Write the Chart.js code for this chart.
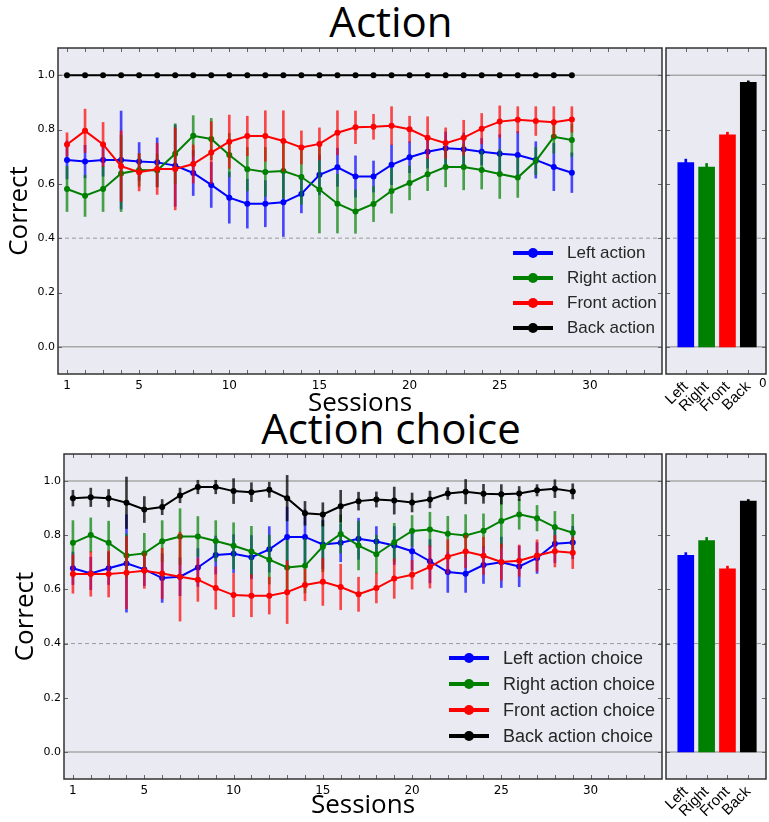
<!DOCTYPE html>
<html>
<head>
<meta charset="utf-8">
<script src="https://cdn.jsdelivr.net/npm/chart.js@4.4.1/dist/chart.umd.min.js"></script>
<style>
  html, body { margin: 0; padding: 0; background: #fff; }
  body { width: 769px; height: 822px; position: relative; overflow: hidden; font-family: "DejaVu Sans", sans-serif; }
  canvas { position: absolute; display: block; }
  .title { position: absolute; left: 0; width: 782px; text-align: center; font: 42px/1 "Open Sans", sans-serif; color: #000; }
  .legend { position: absolute; left: 0; top: 0; font-family: "Liberation Sans", Arial, sans-serif; color: #262626; }
  .legend .row { position: absolute; white-space: nowrap; }
  .legend .key { position: absolute; left: 0; top: -1.75px; width: 40px; height: 3.5px; }
  .legend .dot { position: absolute; left: 15px; top: -5px; width: 10px; height: 10px; border-radius: 50%; }
  .legend .txt { position: absolute; left: 54px; top: 0; line-height: 1; transform: translateY(-52%); }
  .note { position: absolute; font: 12px "DejaVu Sans", sans-serif; color: #000; }
</style>
</head>
<body>
<div class="title" style="top:0px">Action</div>
<div class="title" style="top:407px">Action choice</div>

<canvas id="actionLine" width="666" height="392" style="left:0;top:28px"></canvas>
<canvas id="actionBar" width="113" height="392" style="left:656px;top:28px"></canvas>
<canvas id="choiceLine" width="666" height="388" style="left:0;top:434px"></canvas>
<canvas id="choiceBar" width="113" height="388" style="left:656px;top:434px"></canvas>

<div id="actionLegend" class="legend"></div>
<div id="choiceLegend" class="legend"></div>
<div class="note" style="left:759px;top:376px">0</div>

<script>
// 行動別正答率（セッション推移 + 全体平均）
const BG = "#eaeaf2";
const COLORS = ["#0000ff", "#008000", "#ff0000", "#000000"];
const ERR_COLORS = ["rgba(0,0,255,0.7)", "rgba(0,128,0,0.7)", "rgba(255,0,0,0.7)", "rgba(0,0,0,0.75)"];

const SESSIONS = [1,2,3,4,5,6,7,8,9,10,11,12,13,14,15,16,17,18,19,20,21,22,23,24,25,26,27,28,29];
const X_MIN = 0.5, X_MAX = 34;
const X_TICKS = [1,2,3,4,5,6,7,8,9,10,11,12,13,14,15,16,17,18,19,20,21,22,23,24,25,26,27,28,29,30,31,32,33];
const X_LABELED = [1, 5, 10, 15, 20, 25, 30];
const Y_TICKS = [0.0, 0.2, 0.4, 0.6, 0.8, 1.0];
const REF_LINES = [1.0, 0.4, 0.0];
const REF_DASHED = 0.4;

const BAR_LABELS = ["Left", "Right", "Front", "Back"];
const BAR_POS = [0, 1, 2, 3];
const BAR_MIN = -0.95, BAR_MAX = 3.85;

// --- Action ---
const ACTION_NAMES = ["Left action", "Right action", "Front action", "Back action"];
const ACTION_LEFT  = [0.688,0.682,0.688,0.688,0.682,0.679,0.667,0.640,0.596,0.549,0.527,0.527,0.532,0.563,0.633,0.661,0.627,0.627,0.670,0.698,0.718,0.731,0.727,0.718,0.711,0.706,0.688,0.662,0.641];
const ACTION_LEFT_ERR  = [0.07,0.06,0.06,0.18,0.07,0.09,0.15,0.083,0.083,0.094,0.09,0.085,0.126,0.07,0.073,0.07,0.076,0.057,0.073,0.057,0.06,0.06,0.06,0.049,0.07,0.086,0.067,0.087,0.073];
const ACTION_RIGHT = [0.581,0.556,0.581,0.638,0.651,0.649,0.711,0.777,0.765,0.706,0.654,0.644,0.647,0.625,0.579,0.527,0.498,0.526,0.574,0.603,0.635,0.662,0.662,0.651,0.636,0.623,0.684,0.773,0.761];
const ACTION_RIGHT_ERR = [0.083,0.076,0.083,0.14,0.06,0.06,0.11,0.074,0.076,0.08,0.08,0.09,0.1,0.1,0.16,0.108,0.08,0.065,0.082,0.062,0.06,0.073,0.084,0.07,0.09,0.073,0.05,0.06,0.06];
const ACTION_FRONT = [0.745,0.795,0.745,0.665,0.643,0.655,0.655,0.673,0.715,0.755,0.776,0.776,0.758,0.734,0.747,0.788,0.808,0.810,0.814,0.801,0.770,0.750,0.770,0.803,0.829,0.836,0.831,0.827,0.837];
const ACTION_FRONT_ERR = [0.043,0.08,0.081,0.13,0.069,0.094,0.151,0.07,0.114,0.098,0.073,0.093,0.111,0.061,0.059,0.081,0.06,0.046,0.07,0.048,0.077,0.056,0.064,0.056,0.058,0.048,0.053,0.057,0.047];
const ACTION_BACK  = [1,1,1,1,1,1,1,1,1,1,1,1,1,1,1,1,1,1,1,1,1,1,1,1,1,1,1,1,1];
const ACTION_BACK_ERR  = [0,0,0,0,0,0,0,0,0,0,0,0,0,0,0,0,0,0,0,0,0,0,0,0,0,0,0,0,0];
const ACTION_MEAN = [0.678, 0.662, 0.780, 0.974];
const ACTION_MEAN_ERR = [0.013, 0.013, 0.010, 0.005];

// --- Action choice ---
const CHOICE_NAMES = ["Left action choice", "Right action choice", "Front action choice", "Back action choice"];
const CHOICE_LEFT  = [0.678,0.659,0.678,0.696,0.674,0.642,0.647,0.681,0.727,0.732,0.719,0.748,0.794,0.794,0.766,0.772,0.787,0.777,0.762,0.741,0.704,0.664,0.658,0.690,0.700,0.685,0.716,0.769,0.773];
const CHOICE_LEFT_ERR  = [0.06,0.06,0.06,0.18,0.06,0.09,0.07,0.07,0.07,0.07,0.08,0.084,0.11,0.1,0.09,0.07,0.076,0.055,0.07,0.07,0.08,0.075,0.069,0.068,0.093,0.075,0.057,0.07,0.06];
const CHOICE_RIGHT = [0.772,0.801,0.772,0.725,0.733,0.778,0.795,0.795,0.779,0.761,0.740,0.710,0.681,0.687,0.758,0.805,0.762,0.730,0.774,0.816,0.821,0.806,0.799,0.817,0.853,0.877,0.863,0.830,0.809];
const CHOICE_RIGHT_ERR = [0.082,0.063,0.08,0.08,0.074,0.076,0.103,0.074,0.075,0.085,0.093,0.09,0.1,0.1,0.093,0.07,0.09,0.07,0.07,0.057,0.064,0.064,0.077,0.062,0.1,0.055,0.047,0.058,0.068];
const CHOICE_FRONT = [0.657,0.657,0.657,0.662,0.669,0.659,0.647,0.636,0.605,0.579,0.577,0.577,0.590,0.616,0.628,0.609,0.582,0.605,0.640,0.654,0.683,0.721,0.740,0.724,0.701,0.706,0.725,0.741,0.735];
const CHOICE_FRONT_ERR = [0.071,0.082,0.085,0.133,0.065,0.093,0.164,0.08,0.078,0.08,0.078,0.068,0.116,0.058,0.087,0.084,0.063,0.055,0.073,0.053,0.078,0.062,0.06,0.069,0.067,0.058,0.058,0.058,0.058];
const CHOICE_BACK  = [0.937,0.940,0.937,0.920,0.895,0.904,0.947,0.978,0.978,0.963,0.959,0.968,0.937,0.881,0.877,0.907,0.926,0.932,0.928,0.921,0.932,0.954,0.961,0.953,0.951,0.954,0.966,0.972,0.962];
const CHOICE_BACK_ERR  = [0.029,0.034,0.032,0.095,0.048,0.028,0.027,0.025,0.025,0.046,0.035,0.028,0.084,0.044,0.043,0.059,0.033,0.028,0.05,0.035,0.031,0.022,0.045,0.035,0.036,0.026,0.021,0.033,0.028];
const CHOICE_MEAN = [0.726, 0.780, 0.676, 0.926];
const CHOICE_MEAN_ERR = [0.010, 0.012, 0.010, 0.006];

// 背景と枠線、内向きの目盛り
const framePlugin = {
  id: "frame",
  beforeDraw(chart) {
    const { ctx, chartArea: a } = chart;
    ctx.save();
    ctx.fillStyle = BG;
    ctx.fillRect(a.left, a.top, a.right - a.left, a.bottom - a.top);
    ctx.restore();
  },
  afterDraw(chart) {
    const { ctx, chartArea: a, scales } = chart;
    ctx.save();
    ctx.strokeStyle = "#666";
    ctx.lineWidth = 1;
    ctx.beginPath();
    scales.x.ticks.forEach(t => {
      const px = Math.round(scales.x.getPixelForValue(t.value)) + 0.5;
      ctx.moveTo(px, a.bottom); ctx.lineTo(px, a.bottom - 4);
      ctx.moveTo(px, a.top); ctx.lineTo(px, a.top + 4);
    });
    scales.y.ticks.forEach(t => {
      const py = Math.round(scales.y.getPixelForValue(t.value)) + 0.5;
      ctx.moveTo(a.left, py); ctx.lineTo(a.left + 4, py);
      ctx.moveTo(a.right, py); ctx.lineTo(a.right - 4, py);
    });
    ctx.stroke();
    ctx.strokeStyle = "#333";
    ctx.lineWidth = 1.5;
    ctx.strokeRect(a.left, a.top, a.right - a.left, a.bottom - a.top);
    ctx.restore();
  }
};

function points(xs, vals) {
  return xs.map((x, i) => ({ x, y: vals[i] }));
}

function spans(xs, vals, errs) {
  return xs.map((x, i) => ({ x, y: [vals[i] - errs[i], vals[i] + errs[i]] }));
}

function refDatasets(xMin, xMax) {
  return REF_LINES.map(v => ({
    type: "line",
    data: [{ x: xMin, y: v }, { x: xMax, y: v }],
    borderColor: v === REF_DASHED ? "#9a9a9a" : "#a8a8a8",
    borderWidth: v === REF_DASHED ? 1 : 1.5,
    borderDash: v === REF_DASHED ? [4, 3] : [],
    pointRadius: 0,
    order: 20,
  }));
}

function yScale(width, withLabels, titleGap) {
  return {
    min: -0.1, max: 1.1,
    afterBuildTicks: s => { s.ticks = Y_TICKS.map(v => ({ value: v })); },
    afterFit: s => { s.width = width; },
    grid: { display: false, drawTicks: false },
    border: { display: false },
    ticks: {
      display: withLabels, padding: 3, color: "#000",
      font: { family: "DejaVu Sans", size: 11 },
      callback: v => v.toFixed(1),
    },
    title: {
      display: withLabels, text: "Correct", color: "#000",
      font: { family: "Open Sans", size: 26 },
      padding: { top: titleGap, bottom: 0 },
    },
  };
}

function drawSessions(id, series, errs, yWidth, axisHeight, titleGap) {
  const datasets = refDatasets(X_MIN, X_MAX);
  series.forEach((vals, k) => {
    const base = 2 * (series.length - 1 - k);
    datasets.push({
      type: "bar",
      data: spans(SESSIONS, vals, errs[k]),
      backgroundColor: ERR_COLORS[k],
      barThickness: 2,
      grouped: false,
      borderWidth: 0,
      order: base + 1,
    });
    datasets.push({
      type: "line",
      data: points(SESSIONS, vals),
      borderColor: COLORS[k],
      backgroundColor: COLORS[k],
      borderWidth: 2,
      pointRadius: 3,
      pointBorderWidth: 0,
      tension: 0,
      order: base,
    });
  });

  return new Chart(document.getElementById(id), {
    type: "line",
    data: { datasets },
    plugins: [framePlugin],
    options: {
      responsive: false,
      animation: false,
      events: [],
      layout: { padding: { top: 20, right: 0, left: 0, bottom: 0 } },
      plugins: { legend: { display: false }, tooltip: { enabled: false } },
      scales: {
        x: {
          type: "linear", min: X_MIN, max: X_MAX, offset: false,
          afterBuildTicks: s => { s.ticks = X_TICKS.map(v => ({ value: v })); },
          afterFit: s => { s.height = axisHeight; },
          grid: { display: false, drawTicks: false },
          border: { display: false },
          ticks: {
            autoSkip: false, maxRotation: 0, padding: 5, color: "#000",
            font: { family: "DejaVu Sans", size: 12 },
            callback: v => X_LABELED.includes(v) ? String(v) : "",
          },
          title: {
            display: true, text: "Sessions", color: "#000",
            font: { family: "Open Sans", size: 26 },
            padding: { top: 0, bottom: 1 },
          },
        },
        y: yScale(yWidth, true, titleGap),
      },
    },
  });
}

function drawMeans(id, vals, errs, axisHeight) {
  const datasets = refDatasets(BAR_MIN, BAR_MAX);
  datasets.push({
    type: "bar",
    data: spans(BAR_POS, vals, errs),
    backgroundColor: COLORS,
    barThickness: 2,
    grouped: false,
    borderWidth: 0,
    order: 1,
  });
  datasets.push({
    type: "bar",
    data: points(BAR_POS, vals),
    backgroundColor: COLORS,
    barThickness: 16,
    grouped: false,
    borderWidth: 0,
    order: 2,
  });

  return new Chart(document.getElementById(id), {
    type: "line",
    data: { datasets },
    plugins: [framePlugin],
    options: {
      responsive: false,
      animation: false,
      events: [],
      layout: { padding: { top: 20, right: 3, left: 10, bottom: 0 } },
      plugins: { legend: { display: false }, tooltip: { enabled: false } },
      scales: {
        x: {
          type: "linear", min: BAR_MIN, max: BAR_MAX, offset: false,
          afterBuildTicks: s => { s.ticks = BAR_POS.map(v => ({ value: v })); },
          afterFit: s => { s.height = axisHeight; },
          grid: { display: false, drawTicks: false },
          border: { display: false },
          ticks: {
            autoSkip: false, minRotation: 45, maxRotation: 45, padding: 4, color: "#000",
            font: { family: "Liberation Sans", size: 15 },
            callback: v => BAR_LABELS[v] ?? "",
          },
        },
        y: yScale(0, false, 0),
      },
    },
  });
}

function buildLegend(id, names, left, top, step, fontSize) {
  const el = document.getElementById(id);
  names.forEach((name, i) => {
    const row = document.createElement("div");
    row.className = "row";
    row.style.left = left + "px";
    row.style.top = (top + i * step) + "px";
    row.innerHTML = `<div class="key" style="background:${COLORS[i]}"></div>` +
      `<div class="dot" style="background:${COLORS[i]}"></div>` +
      `<div class="txt" style="font-size:${fontSize}px">${name}</div>`;
    el.appendChild(row);
  });
}

drawSessions("actionLine",
  [ACTION_LEFT, ACTION_RIGHT, ACTION_FRONT, ACTION_BACK],
  [ACTION_LEFT_ERR, ACTION_RIGHT_ERR, ACTION_FRONT_ERR, ACTION_BACK_ERR], 58, 46, 4);
drawMeans("actionBar", ACTION_MEAN, ACTION_MEAN_ERR, 46);

drawSessions("choiceLine",
  [CHOICE_LEFT, CHOICE_RIGHT, CHOICE_FRONT, CHOICE_BACK],
  [CHOICE_LEFT_ERR, CHOICE_RIGHT_ERR, CHOICE_FRONT_ERR, CHOICE_BACK_ERR], 64, 43, 10);
drawMeans("choiceBar", CHOICE_MEAN, CHOICE_MEAN_ERR, 43);

buildLegend("actionLegend", ACTION_NAMES, 513, 253, 25, 17);
buildLegend("choiceLegend", CHOICE_NAMES, 449, 658, 26, 18);
</script>
</body>
</html>
